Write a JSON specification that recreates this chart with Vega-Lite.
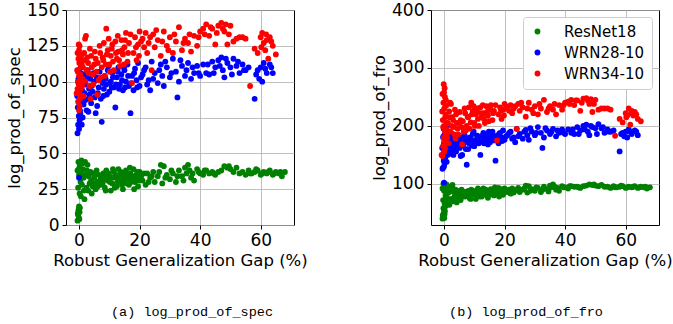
{
 "$schema": "https://vega.github.io/schema/vega-lite/v6.json",
 "background": "white",
 "padding": {"left": 6, "top": 0, "right": 0, "bottom": 5},
 "datasets": {
  "runs": [
   {"m":"ResNet18","g":-0.5,"s":3,"f":40},{"m":"ResNet18","g":0,"s":5,"f":42},{"m":"ResNet18","g":-0.3,"s":7,"f":45},{"m":"ResNet18","g":0.2,"s":9,"f":48},{"m":"ResNet18","g":-0.1,"s":11,"f":50},{"m":"ResNet18","g":0.3,"s":12,"f":53},{"m":"ResNet18","g":-0.4,"s":8,"f":46},{"m":"ResNet18","g":0.1,"s":4,"f":41},{"m":"ResNet18","g":0,"s":13,"f":56},{"m":"ResNet18","g":-0.2,"s":10,"f":58},
   {"m":"ResNet18","g":-0.2,"s":44,"f":100},{"m":"ResNet18","g":0.3,"s":42,"f":97},{"m":"ResNet18","g":0.8,"s":45,"f":99},{"m":"ResNet18","g":1.2,"s":43,"f":96},{"m":"ResNet18","g":2,"s":44,"f":95},{"m":"ResNet18","g":2.8,"s":42,"f":98},{"m":"ResNet18","g":-0.5,"s":38,"f":92},{"m":"ResNet18","g":0,"s":35,"f":88},{"m":"ResNet18","g":0.5,"s":30,"f":80},{"m":"ResNet18","g":-0.3,"s":26,"f":72},{"m":"ResNet18","g":0.2,"s":22,"f":66},{"m":"ResNet18","g":0.6,"s":20,"f":62},{"m":"ResNet18","g":1,"s":28,"f":76},{"m":"ResNet18","g":1.5,"s":33,"f":85},{"m":"ResNet18","g":0.1,"s":40,"f":94},{"m":"ResNet18","g":2.5,"s":26,"f":74},{"m":"ResNet18","g":3,"s":24,"f":70},{"m":"ResNet18","g":1.8,"s":18,"f":64},{"m":"ResNet18","g":3.5,"s":29,"f":78},{"m":"ResNet18","g":4,"s":31,"f":82},
   {"m":"ResNet18","g":4.5,"s":27,"f":76},{"m":"ResNet18","g":5,"s":33,"f":84},{"m":"ResNet18","g":5.5,"s":25,"f":72},{"m":"ResNet18","g":6,"s":30,"f":80},{"m":"ResNet18","g":6.5,"s":35,"f":86},{"m":"ResNet18","g":7,"s":28,"f":78},{"m":"ResNet18","g":7.5,"s":32,"f":84},{"m":"ResNet18","g":8,"s":36,"f":88},{"m":"ResNet18","g":8.5,"s":26,"f":75},{"m":"ResNet18","g":9,"s":38,"f":90},{"m":"ResNet18","g":9.5,"s":31,"f":82},{"m":"ResNet18","g":10,"s":34,"f":86},{"m":"ResNet18","g":10.5,"s":24,"f":74},{"m":"ResNet18","g":11,"s":29,"f":80},{"m":"ResNet18","g":11.5,"s":37,"f":90},{"m":"ResNet18","g":12,"s":33,"f":85},{"m":"ResNet18","g":12.5,"s":27,"f":78},{"m":"ResNet18","g":13,"s":39,"f":92},{"m":"ResNet18","g":13.5,"s":31,"f":84},{"m":"ResNet18","g":14,"s":35,"f":88},{"m":"ResNet18","g":14.5,"s":25,"f":76},{"m":"ResNet18","g":15,"s":30,"f":82},{"m":"ResNet18","g":15.5,"s":38,"f":91},{"m":"ResNet18","g":16,"s":34,"f":87},{"m":"ResNet18","g":16.5,"s":28,"f":80},{"m":"ResNet18","g":17,"s":36,"f":90},{"m":"ResNet18","g":17.5,"s":32,"f":86},{"m":"ResNet18","g":18,"s":39,"f":93},{"m":"ResNet18","g":18.5,"s":30,"f":84},{"m":"ResNet18","g":19,"s":35,"f":89},{"m":"ResNet18","g":19.5,"s":27,"f":81},{"m":"ResNet18","g":20,"s":37,"f":92},
   {"m":"ResNet18","g":21,"s":31,"f":86},{"m":"ResNet18","g":22,"s":28,"f":83},{"m":"ResNet18","g":22.5,"s":36,"f":92},{"m":"ResNet18","g":23.5,"s":33,"f":89},{"m":"ResNet18","g":24.5,"s":37,"f":93},{"m":"ResNet18","g":25,"s":30,"f":86},{"m":"ResNet18","g":26,"s":34,"f":90},{"m":"ResNet18","g":27,"s":42,"f":97},{"m":"ResNet18","g":27.5,"s":29,"f":85},{"m":"ResNet18","g":28,"s":41,"f":96},{"m":"ResNet18","g":29,"s":35,"f":91},{"m":"ResNet18","g":30,"s":32,"f":88},{"m":"ResNet18","g":31,"s":36,"f":93},{"m":"ResNet18","g":32,"s":30,"f":86},{"m":"ResNet18","g":33,"s":38,"f":95},{"m":"ResNet18","g":34,"s":34,"f":91},{"m":"ResNet18","g":35,"s":40,"f":97},{"m":"ResNet18","g":35.5,"s":36,"f":94},{"m":"ResNet18","g":36,"s":42,"f":99},{"m":"ResNet18","g":37,"s":33,"f":90},{"m":"ResNet18","g":38,"s":31,"f":88},{"m":"ResNet18","g":39,"s":39,"f":96},
   {"m":"ResNet18","g":40,"s":36,"f":94},{"m":"ResNet18","g":41,"s":35,"f":92},{"m":"ResNet18","g":42,"s":38,"f":96},{"m":"ResNet18","g":43,"s":36,"f":95},{"m":"ResNet18","g":44,"s":37,"f":95},{"m":"ResNet18","g":45,"s":35,"f":93},{"m":"ResNet18","g":46,"s":37,"f":96},{"m":"ResNet18","g":48,"s":41,"f":99},{"m":"ResNet18","g":49,"s":40,"f":98},{"m":"ResNet18","g":50,"s":39,"f":97},{"m":"ResNet18","g":51,"s":37,"f":96},{"m":"ResNet18","g":52,"s":40,"f":98},{"m":"ResNet18","g":53,"s":36,"f":95},{"m":"ResNet18","g":55,"s":35,"f":93},{"m":"ResNet18","g":56,"s":38,"f":96},{"m":"ResNet18","g":57,"s":36,"f":94},{"m":"ResNet18","g":58,"s":37,"f":95},{"m":"ResNet18","g":59,"s":38,"f":96},{"m":"ResNet18","g":60,"s":35,"f":93},{"m":"ResNet18","g":61,"s":37,"f":95},{"m":"ResNet18","g":62,"s":36,"f":94},{"m":"ResNet18","g":63,"s":38,"f":96},{"m":"ResNet18","g":64,"s":35,"f":93},{"m":"ResNet18","g":65,"s":37,"f":95},{"m":"ResNet18","g":66,"s":36,"f":94},{"m":"ResNet18","g":67,"s":34,"f":92},{"m":"ResNet18","g":68,"s":37,"f":94},
   {"m":"ResNet18","g":0.7,"s":36,"f":90},{"m":"ResNet18","g":1.3,"s":39,"f":93},{"m":"ResNet18","g":1.6,"s":24,"f":70},{"m":"ResNet18","g":2.2,"s":35,"f":88},{"m":"ResNet18","g":2.6,"s":38,"f":92},{"m":"ResNet18","g":3.2,"s":34,"f":86},{"m":"ResNet18","g":3.8,"s":37,"f":90},{"m":"ResNet18","g":4.2,"s":22,"f":68},{"m":"ResNet18","g":4.8,"s":36,"f":88},{"m":"ResNet18","g":5.2,"s":29,"f":80},{"m":"ResNet18","g":5.8,"s":38,"f":90},{"m":"ResNet18","g":6.2,"s":27,"f":78},{"m":"ResNet18","g":6.8,"s":31,"f":83},{"m":"ResNet18","g":7.2,"s":34,"f":86},{"m":"ResNet18","g":7.8,"s":29,"f":80},{"m":"ResNet18","g":8.2,"s":32,"f":84},{"m":"ResNet18","g":8.8,"s":24,"f":74},{"m":"ResNet18","g":9.2,"s":34,"f":87},{"m":"ResNet18","g":9.8,"s":36,"f":88},{"m":"ResNet18","g":10.2,"s":30,"f":82},{"m":"ResNet18","g":10.8,"s":33,"f":86},{"m":"ResNet18","g":11.2,"s":39,"f":92},{"m":"ResNet18","g":11.8,"s":26,"f":78},{"m":"ResNet18","g":12.2,"s":35,"f":88},{"m":"ResNet18","g":12.8,"s":30,"f":83},{"m":"ResNet18","g":13.2,"s":33,"f":86},{"m":"ResNet18","g":13.8,"s":37,"f":90},{"m":"ResNet18","g":14.2,"s":28,"f":80},{"m":"ResNet18","g":14.8,"s":33,"f":86},{"m":"ResNet18","g":15.2,"s":36,"f":89},{"m":"ResNet18","g":15.8,"s":29,"f":82},{"m":"ResNet18","g":16.2,"s":32,"f":85},{"m":"ResNet18","g":16.8,"s":40,"f":94},{"m":"ResNet18","g":17.2,"s":30,"f":84},{"m":"ResNet18","g":17.8,"s":34,"f":88},{"m":"ResNet18","g":18.2,"s":25,"f":78},{"m":"ResNet18","g":18.8,"s":33,"f":87},{"m":"ResNet18","g":19.2,"s":37,"f":91},{"m":"ResNet18","g":19.8,"s":31,"f":85},{"m":"ResNet18","g":20.5,"s":34,"f":88},{"m":"ResNet18","g":21.5,"s":36,"f":90},{"m":"ResNet18","g":23,"s":30,"f":85},{"m":"ResNet18","g":24,"s":34,"f":89},{"m":"ResNet18","g":26.5,"s":37,"f":92},{"m":"ResNet18","g":28.5,"s":33,"f":88},{"m":"ResNet18","g":30.5,"s":38,"f":94},{"m":"ResNet18","g":32.5,"s":34,"f":90},{"m":"ResNet18","g":34.5,"s":31,"f":87},{"m":"ResNet18","g":36.5,"s":38,"f":95},{"m":"ResNet18","g":37.5,"s":36,"f":93},{"m":"ResNet18","g":39.5,"s":37,"f":94},{"m":"ResNet18","g":41.5,"s":38,"f":96},{"m":"ResNet18","g":44.5,"s":36,"f":94},{"m":"ResNet18","g":47,"s":38,"f":97},{"m":"ResNet18","g":49.5,"s":41,"f":99},{"m":"ResNet18","g":54,"s":37,"f":95},{"m":"ResNet18","g":56.5,"s":36,"f":94},{"m":"ResNet18","g":58.5,"s":39,"f":97},{"m":"ResNet18","g":60.5,"s":36,"f":94},{"m":"ResNet18","g":62.5,"s":37,"f":95},{"m":"ResNet18","g":64.5,"s":36,"f":94},{"m":"ResNet18","g":66.5,"s":37,"f":95},
   {"m":"WRN28-10","g":0,"s":33,"f":102},{"m":"WRN28-10","g":7.5,"s":72,"f":133},{"m":"WRN28-10","g":17,"s":78,"f":140},{"m":"WRN28-10","g":32.5,"s":89,"f":162},{"m":"WRN28-10","g":58,"s":88,"f":156},
   {"m":"WRN28-10","g":-0.5,"s":64,"f":126},{"m":"WRN28-10","g":0,"s":67,"f":130},{"m":"WRN28-10","g":-0.3,"s":70,"f":128},{"m":"WRN28-10","g":0.2,"s":73,"f":135},{"m":"WRN28-10","g":-0.1,"s":76,"f":140},{"m":"WRN28-10","g":0.4,"s":78,"f":145},{"m":"WRN28-10","g":-0.4,"s":82,"f":150},{"m":"WRN28-10","g":0.1,"s":85,"f":155},{"m":"WRN28-10","g":0.3,"s":88,"f":160},{"m":"WRN28-10","g":-0.2,"s":91,"f":165},{"m":"WRN28-10","g":0,"s":94,"f":170},{"m":"WRN28-10","g":0.5,"s":97,"f":175},{"m":"WRN28-10","g":-0.3,"s":100,"f":180},{"m":"WRN28-10","g":0.2,"s":103,"f":185},{"m":"WRN28-10","g":0.6,"s":106,"f":190},{"m":"WRN28-10","g":-0.1,"s":108,"f":195},{"m":"WRN28-10","g":0.8,"s":110,"f":198},{"m":"WRN28-10","g":0.3,"s":80,"f":148},{"m":"WRN28-10","g":-0.6,"s":90,"f":162},{"m":"WRN28-10","g":0.9,"s":70,"f":138},
   {"m":"WRN28-10","g":1.2,"s":75,"f":150},{"m":"WRN28-10","g":1.5,"s":84,"f":158},{"m":"WRN28-10","g":1.8,"s":92,"f":166},{"m":"WRN28-10","g":2.2,"s":98,"f":172},{"m":"WRN28-10","g":2.5,"s":80,"f":152},{"m":"WRN28-10","g":3,"s":88,"f":160},{"m":"WRN28-10","g":3.3,"s":95,"f":170},{"m":"WRN28-10","g":3.7,"s":102,"f":178},{"m":"WRN28-10","g":4,"s":85,"f":156},{"m":"WRN28-10","g":4.5,"s":93,"f":168},{"m":"WRN28-10","g":5,"s":100,"f":176},{"m":"WRN28-10","g":5.5,"s":78,"f":148},{"m":"WRN28-10","g":1.4,"s":105,"f":182},{"m":"WRN28-10","g":2.8,"s":108,"f":186},
   {"m":"WRN28-10","g":6,"s":83,"f":150},{"m":"WRN28-10","g":6.5,"s":96,"f":170},{"m":"WRN28-10","g":7,"s":101,"f":176},{"m":"WRN28-10","g":8,"s":90,"f":160},{"m":"WRN28-10","g":8.5,"s":104,"f":180},{"m":"WRN28-10","g":9,"s":98,"f":172},{"m":"WRN28-10","g":9.5,"s":108,"f":186},{"m":"WRN28-10","g":10,"s":93,"f":165},{"m":"WRN28-10","g":10.5,"s":100,"f":176},{"m":"WRN28-10","g":11,"s":106,"f":183},{"m":"WRN28-10","g":11.5,"s":96,"f":170},{"m":"WRN28-10","g":12,"s":82,"f":150},{"m":"WRN28-10","g":12.5,"s":103,"f":180},{"m":"WRN28-10","g":13,"s":110,"f":188},{"m":"WRN28-10","g":13.5,"s":98,"f":174},{"m":"WRN28-10","g":14,"s":105,"f":182},{"m":"WRN28-10","g":14.5,"s":94,"f":168},{"m":"WRN28-10","g":15,"s":108,"f":186},{"m":"WRN28-10","g":15.5,"s":100,"f":178},{"m":"WRN28-10","g":16,"s":112,"f":190},{"m":"WRN28-10","g":16.5,"s":97,"f":175},{"m":"WRN28-10","g":17.5,"s":104,"f":183},{"m":"WRN28-10","g":18,"s":94,"f":170},{"m":"WRN28-10","g":18.5,"s":109,"f":188},{"m":"WRN28-10","g":19,"s":101,"f":180},{"m":"WRN28-10","g":19.5,"s":113,"f":192},{"m":"WRN28-10","g":20,"s":97,"f":176},
   {"m":"WRN28-10","g":21,"s":105,"f":184},{"m":"WRN28-10","g":22,"s":110,"f":190},{"m":"WRN28-10","g":23,"s":101,"f":180},{"m":"WRN28-10","g":23.5,"s":94,"f":172},{"m":"WRN28-10","g":24,"s":114,"f":195},{"m":"WRN28-10","g":25,"s":106,"f":186},{"m":"WRN28-10","g":26,"s":99,"f":178},{"m":"WRN28-10","g":27,"s":112,"f":193},{"m":"WRN28-10","g":27.5,"s":104,"f":184},{"m":"WRN28-10","g":28,"s":97,"f":176},{"m":"WRN28-10","g":29,"s":110,"f":190},{"m":"WRN28-10","g":30,"s":103,"f":184},{"m":"WRN28-10","g":31,"s":116,"f":198},{"m":"WRN28-10","g":32,"s":107,"f":188},{"m":"WRN28-10","g":33,"s":100,"f":180},{"m":"WRN28-10","g":34,"s":111,"f":192},{"m":"WRN28-10","g":35,"s":104,"f":186},{"m":"WRN28-10","g":36,"s":113,"f":195},{"m":"WRN28-10","g":37,"s":102,"f":182},{"m":"WRN28-10","g":38,"s":106,"f":188},{"m":"WRN28-10","g":39,"s":111,"f":194},{"m":"WRN28-10","g":40,"s":104,"f":186},
   {"m":"WRN28-10","g":41,"s":112,"f":194},{"m":"WRN28-10","g":42,"s":106,"f":188},{"m":"WRN28-10","g":43,"s":105,"f":186},{"m":"WRN28-10","g":44,"s":114,"f":198},{"m":"WRN28-10","g":45,"s":110,"f":192},{"m":"WRN28-10","g":46,"s":115,"f":200},{"m":"WRN28-10","g":47,"s":117,"f":202},{"m":"WRN28-10","g":47.5,"s":108,"f":190},{"m":"WRN28-10","g":48,"s":103,"f":184},{"m":"WRN28-10","g":49,"s":113,"f":198},{"m":"WRN28-10","g":50,"s":110,"f":196},{"m":"WRN28-10","g":51,"s":116,"f":203},{"m":"WRN28-10","g":52,"s":111,"f":196},{"m":"WRN28-10","g":53,"s":106,"f":188},{"m":"WRN28-10","g":54,"s":112,"f":194},{"m":"WRN28-10","g":55,"s":108,"f":190},{"m":"WRN28-10","g":56,"s":110,"f":192},{"m":"WRN28-10","g":58.5,"s":105,"f":186},{"m":"WRN28-10","g":59,"s":108,"f":188},{"m":"WRN28-10","g":60,"s":110,"f":190},{"m":"WRN28-10","g":60.5,"s":100,"f":180},{"m":"WRN28-10","g":61,"s":113,"f":194},{"m":"WRN28-10","g":62,"s":106,"f":186},{"m":"WRN28-10","g":63,"s":112,"f":192},{"m":"WRN28-10","g":64,"s":106,"f":184},
   {"m":"WRN28-10","g":0.4,"s":98,"f":176},{"m":"WRN28-10","g":0.7,"s":86,"f":158},{"m":"WRN28-10","g":-0.2,"s":102,"f":182},{"m":"WRN28-10","g":1,"s":94,"f":168},{"m":"WRN28-10","g":1.6,"s":100,"f":176},{"m":"WRN28-10","g":2,"s":87,"f":160},{"m":"WRN28-10","g":2.6,"s":103,"f":180},{"m":"WRN28-10","g":3.1,"s":79,"f":150},{"m":"WRN28-10","g":3.5,"s":91,"f":164},{"m":"WRN28-10","g":4.2,"s":97,"f":172},{"m":"WRN28-10","g":4.8,"s":106,"f":184},{"m":"WRN28-10","g":5.2,"s":89,"f":162},{"m":"WRN28-10","g":5.8,"s":103,"f":180},{"m":"WRN28-10","g":6.2,"s":92,"f":166},{"m":"WRN28-10","g":6.8,"s":107,"f":184},{"m":"WRN28-10","g":7.2,"s":88,"f":160},{"m":"WRN28-10","g":7.8,"s":99,"f":174},{"m":"WRN28-10","g":8.2,"s":95,"f":170},{"m":"WRN28-10","g":8.8,"s":102,"f":178},{"m":"WRN28-10","g":9.2,"s":91,"f":166},{"m":"WRN28-10","g":9.8,"s":111,"f":190},{"m":"WRN28-10","g":10.2,"s":99,"f":175},{"m":"WRN28-10","g":10.8,"s":96,"f":172},{"m":"WRN28-10","g":11.2,"s":103,"f":180},{"m":"WRN28-10","g":12.2,"s":98,"f":174},{"m":"WRN28-10","g":12.8,"s":107,"f":184},{"m":"WRN28-10","g":13.2,"s":95,"f":170},{"m":"WRN28-10","g":14.2,"s":101,"f":178},{"m":"WRN28-10","g":14.8,"s":110,"f":190},{"m":"WRN28-10","g":15.2,"s":96,"f":172},{"m":"WRN28-10","g":16.2,"s":104,"f":182},{"m":"WRN28-10","g":17.2,"s":99,"f":176},{"m":"WRN28-10","g":18.2,"s":106,"f":186},{"m":"WRN28-10","g":19.2,"s":96,"f":174},{"m":"WRN28-10","g":20.5,"s":103,"f":182},{"m":"WRN28-10","g":21.5,"s":108,"f":188},{"m":"WRN28-10","g":22.5,"s":98,"f":178},{"m":"WRN28-10","g":24.5,"s":102,"f":182},{"m":"WRN28-10","g":26.5,"s":108,"f":190},{"m":"WRN28-10","g":28.5,"s":114,"f":196},{"m":"WRN28-10","g":30.5,"s":106,"f":188},{"m":"WRN28-10","g":33.5,"s":115,"f":196},{"m":"WRN28-10","g":35.5,"s":108,"f":190},{"m":"WRN28-10","g":37.5,"s":110,"f":192},{"m":"WRN28-10","g":39.5,"s":106,"f":188},{"m":"WRN28-10","g":42.5,"s":112,"f":194},{"m":"WRN28-10","g":44.5,"s":106,"f":186},{"m":"WRN28-10","g":46.5,"s":111,"f":194},{"m":"WRN28-10","g":48.5,"s":116,"f":200},{"m":"WRN28-10","g":50.5,"s":105,"f":186},{"m":"WRN28-10","g":52.5,"s":114,"f":198},{"m":"WRN28-10","g":54.5,"s":108,"f":190},{"m":"WRN28-10","g":59.5,"s":102,"f":182},{"m":"WRN28-10","g":61.5,"s":109,"f":190},{"m":"WRN28-10","g":63.5,"s":110,"f":190},
   {"m":"WRN34-10","g":56.5,"s":97,"f":183},{"m":"WRN34-10","g":6,"s":91,"f":168},{"m":"WRN34-10","g":17.5,"s":99,"f":175},{"m":"WRN34-10","g":24,"s":108,"f":195},{"m":"WRN34-10","g":65,"s":119,"f":208},
   {"m":"WRN34-10","g":-0.8,"s":92,"f":150},{"m":"WRN34-10","g":-0.5,"s":95,"f":148},{"m":"WRN34-10","g":0,"s":80,"f":155},{"m":"WRN34-10","g":0.2,"s":83,"f":160},{"m":"WRN34-10","g":-0.3,"s":86,"f":165},{"m":"WRN34-10","g":0.4,"s":89,"f":170},{"m":"WRN34-10","g":-0.1,"s":98,"f":180},{"m":"WRN34-10","g":0.3,"s":101,"f":190},{"m":"WRN34-10","g":0,"s":104,"f":200},{"m":"WRN34-10","g":-0.4,"s":107,"f":210},{"m":"WRN34-10","g":0.5,"s":110,"f":220},{"m":"WRN34-10","g":0.1,"s":113,"f":230},{"m":"WRN34-10","g":-0.2,"s":116,"f":240},{"m":"WRN34-10","g":0.3,"s":119,"f":250},{"m":"WRN34-10","g":0,"s":122,"f":258},{"m":"WRN34-10","g":0.2,"s":125,"f":265},{"m":"WRN34-10","g":-0.1,"s":126,"f":272},{"m":"WRN34-10","g":0.6,"s":95,"f":185},{"m":"WRN34-10","g":0.8,"s":100,"f":195},{"m":"WRN34-10","g":-0.6,"s":108,"f":225},{"m":"WRN34-10","g":0.9,"s":112,"f":205},{"m":"WRN34-10","g":0.7,"s":118,"f":235},
   {"m":"WRN34-10","g":1.5,"s":90,"f":170},{"m":"WRN34-10","g":2,"s":130,"f":240},{"m":"WRN34-10","g":2.3,"s":132,"f":238},{"m":"WRN34-10","g":1.8,"s":115,"f":215},{"m":"WRN34-10","g":2.5,"s":108,"f":200},{"m":"WRN34-10","g":3,"s":113,"f":210},{"m":"WRN34-10","g":3.5,"s":97,"f":185},{"m":"WRN34-10","g":4,"s":118,"f":220},{"m":"WRN34-10","g":4.5,"s":105,"f":195},{"m":"WRN34-10","g":5,"s":112,"f":205},{"m":"WRN34-10","g":1.2,"s":102,"f":188},{"m":"WRN34-10","g":3.8,"s":88,"f":178},
   {"m":"WRN34-10","g":5.5,"s":116,"f":210},{"m":"WRN34-10","g":6.5,"s":101,"f":190},{"m":"WRN34-10","g":7,"s":120,"f":222},{"m":"WRN34-10","g":7.5,"s":110,"f":200},{"m":"WRN34-10","g":8,"s":115,"f":215},{"m":"WRN34-10","g":8.5,"s":104,"f":195},{"m":"WRN34-10","g":9,"s":137,"f":240},{"m":"WRN34-10","g":9.5,"s":122,"f":225},{"m":"WRN34-10","g":10,"s":112,"f":205},{"m":"WRN34-10","g":10.5,"s":118,"f":220},{"m":"WRN34-10","g":11,"s":126,"f":230},{"m":"WRN34-10","g":11.5,"s":108,"f":200},{"m":"WRN34-10","g":12,"s":128,"f":232},{"m":"WRN34-10","g":12.5,"s":116,"f":215},{"m":"WRN34-10","g":13,"s":121,"f":222},{"m":"WRN34-10","g":13.5,"s":111,"f":205},{"m":"WRN34-10","g":14,"s":129,"f":234},{"m":"WRN34-10","g":14.5,"s":119,"f":218},{"m":"WRN34-10","g":15,"s":124,"f":228},{"m":"WRN34-10","g":15.5,"s":134,"f":236},{"m":"WRN34-10","g":16,"s":114,"f":210},{"m":"WRN34-10","g":16.5,"s":127,"f":226},{"m":"WRN34-10","g":18,"s":120,"f":220},{"m":"WRN34-10","g":18.5,"s":131,"f":232},{"m":"WRN34-10","g":19,"s":115,"f":212},{"m":"WRN34-10","g":19.5,"s":126,"f":228},{"m":"WRN34-10","g":20,"s":135,"f":238},
   {"m":"WRN34-10","g":21,"s":130,"f":233},{"m":"WRN34-10","g":22,"s":134,"f":236},{"m":"WRN34-10","g":22.5,"s":120,"f":222},{"m":"WRN34-10","g":23,"s":127,"f":230},{"m":"WRN34-10","g":24.5,"s":133,"f":238},{"m":"WRN34-10","g":25,"s":124,"f":226},{"m":"WRN34-10","g":26,"s":129,"f":232},{"m":"WRN34-10","g":27,"s":118,"f":216},{"m":"WRN34-10","g":28,"s":135,"f":240},{"m":"WRN34-10","g":29,"s":125,"f":228},{"m":"WRN34-10","g":30,"s":131,"f":234},{"m":"WRN34-10","g":31,"s":120,"f":220},{"m":"WRN34-10","g":32,"s":128,"f":230},{"m":"WRN34-10","g":33,"s":138,"f":245},{"m":"WRN34-10","g":34,"s":122,"f":224},{"m":"WRN34-10","g":35,"s":130,"f":234},{"m":"WRN34-10","g":36,"s":127,"f":228},{"m":"WRN34-10","g":37,"s":121,"f":220},{"m":"WRN34-10","g":38,"s":132,"f":236},{"m":"WRN34-10","g":39,"s":125,"f":228},{"m":"WRN34-10","g":40,"s":135,"f":240},
   {"m":"WRN34-10","g":41,"s":137,"f":242},{"m":"WRN34-10","g":42,"s":140,"f":245},{"m":"WRN34-10","g":43,"s":132,"f":236},{"m":"WRN34-10","g":44,"s":137,"f":244},{"m":"WRN34-10","g":45,"s":126,"f":226},{"m":"WRN34-10","g":46,"s":139,"f":247},{"m":"WRN34-10","g":47,"s":141,"f":248},{"m":"WRN34-10","g":48,"s":135,"f":238},{"m":"WRN34-10","g":48.5,"s":140,"f":246},{"m":"WRN34-10","g":49,"s":126,"f":224},{"m":"WRN34-10","g":50,"s":139,"f":245},{"m":"WRN34-10","g":51,"s":128,"f":228},{"m":"WRN34-10","g":52,"s":130,"f":230},{"m":"WRN34-10","g":53,"s":131,"f":230},{"m":"WRN34-10","g":55,"s":130,"f":228},
   {"m":"WRN34-10","g":58,"s":123,"f":212},{"m":"WRN34-10","g":59,"s":120,"f":206},{"m":"WRN34-10","g":60,"s":131,"f":222},{"m":"WRN34-10","g":60.5,"s":134,"f":218},{"m":"WRN34-10","g":61,"s":127,"f":230},{"m":"WRN34-10","g":61.5,"s":122,"f":202},{"m":"WRN34-10","g":62,"s":129,"f":226},{"m":"WRN34-10","g":62.5,"s":116,"f":218},{"m":"WRN34-10","g":63,"s":131,"f":224},{"m":"WRN34-10","g":64,"s":125,"f":212},
   {"m":"WRN34-10","g":0.4,"s":105,"f":215},{"m":"WRN34-10","g":-0.3,"s":100,"f":198},{"m":"WRN34-10","g":0.1,"s":92,"f":175},{"m":"WRN34-10","g":0.6,"s":115,"f":245},{"m":"WRN34-10","g":-0.5,"s":120,"f":255},{"m":"WRN34-10","g":0.3,"s":88,"f":162},{"m":"WRN34-10","g":1,"s":97,"f":180},{"m":"WRN34-10","g":1.3,"s":110,"f":205},{"m":"WRN34-10","g":1.7,"s":120,"f":225},{"m":"WRN34-10","g":2.1,"s":100,"f":190},{"m":"WRN34-10","g":2.7,"s":117,"f":215},{"m":"WRN34-10","g":3.2,"s":106,"f":198},{"m":"WRN34-10","g":3.6,"s":123,"f":228},{"m":"WRN34-10","g":4.2,"s":110,"f":205},{"m":"WRN34-10","g":4.7,"s":98,"f":185},{"m":"WRN34-10","g":5.2,"s":121,"f":224},{"m":"WRN34-10","g":5.8,"s":107,"f":198},{"m":"WRN34-10","g":6.2,"s":113,"f":208},{"m":"WRN34-10","g":6.8,"s":125,"f":230},{"m":"WRN34-10","g":7.2,"s":103,"f":192},{"m":"WRN34-10","g":7.8,"s":117,"f":216},{"m":"WRN34-10","g":8.2,"s":127,"f":232},{"m":"WRN34-10","g":8.8,"s":112,"f":206},{"m":"WRN34-10","g":9.2,"s":119,"f":220},{"m":"WRN34-10","g":9.8,"s":130,"f":234},{"m":"WRN34-10","g":10.2,"s":107,"f":200},{"m":"WRN34-10","g":10.8,"s":123,"f":226},{"m":"WRN34-10","g":11.2,"s":114,"f":212},{"m":"WRN34-10","g":12.2,"s":120,"f":222},{"m":"WRN34-10","g":12.8,"s":132,"f":236},{"m":"WRN34-10","g":13.2,"s":115,"f":212},{"m":"WRN34-10","g":14.2,"s":122,"f":224},{"m":"WRN34-10","g":14.8,"s":112,"f":208},{"m":"WRN34-10","g":15.2,"s":129,"f":232},{"m":"WRN34-10","g":16.2,"s":120,"f":222},{"m":"WRN34-10","g":17,"s":133,"f":236},{"m":"WRN34-10","g":18.8,"s":124,"f":226},{"m":"WRN34-10","g":19.8,"s":118,"f":218},{"m":"WRN34-10","g":20.5,"s":128,"f":230},{"m":"WRN34-10","g":21.5,"s":124,"f":226},{"m":"WRN34-10","g":23.5,"s":131,"f":234},{"m":"WRN34-10","g":25.5,"s":136,"f":240},{"m":"WRN34-10","g":27.5,"s":128,"f":230},{"m":"WRN34-10","g":29.5,"s":122,"f":222},{"m":"WRN34-10","g":31.5,"s":133,"f":238},{"m":"WRN34-10","g":34.5,"s":127,"f":230},{"m":"WRN34-10","g":36.5,"s":133,"f":238},{"m":"WRN34-10","g":39.5,"s":131,"f":236},{"m":"WRN34-10","g":41.5,"s":133,"f":238},{"m":"WRN34-10","g":43.5,"s":138,"f":244},{"m":"WRN34-10","g":45.5,"s":134,"f":240},{"m":"WRN34-10","g":47.5,"s":137,"f":244},{"m":"WRN34-10","g":49.5,"s":133,"f":238},{"m":"WRN34-10","g":54,"s":131,"f":230},{"m":"WRN34-10","g":60.2,"s":124,"f":215},{"m":"WRN34-10","g":61.8,"s":133,"f":222},{"m":"WRN34-10","g":63.5,"s":128,"f":220}
  ]
 },
 "data": {"name": "runs"},
 "config": {
  "font": "DejaVu Sans",
  "view": {"stroke": "black", "strokeWidth": 1},
  "axis": {"grid": true, "gridColor": "#b0b0b0", "gridWidth": 0.8, "domain": false, "ticks": true, "tickColor": "black", "tickSize": 4, "labelFont": "DejaVu Sans", "labelFontSize": 17, "labelColor": "black", "labelPadding": 3, "titleFont": "DejaVu Sans", "titleFontSize": 16.5, "titleFontWeight": "normal", "titleColor": "black", "titlePadding": 4},
  "legend": {"labelFont": "DejaVu Sans", "labelFontSize": 15, "labelColor": "black", "symbolType": "circle", "symbolSize": 34, "symbolStrokeWidth": 0, "fillColor": "white", "strokeColor": "#cccccc", "cornerRadius": 3, "padding": 7, "rowPadding": 5, "labelOffset": 19, "symbolOffset": 0},
  "title": {"font": "Liberation Mono", "fontSize": 13.5, "fontWeight": "normal", "color": "black"}
 },
 "resolve": {"legend": {"color": "independent"}},
 "spacing": 63,
 "hconcat": [
  {
   "width": 228, "height": 215,
   "title": {"text": "(a) log_prod_of_spec", "orient": "bottom", "anchor": "middle", "frame": "group", "offset": 36, "dx": 12},
   "mark": {"type": "circle", "size": 34, "opacity": 1},
   "encoding": {
    "x": {"field": "g", "type": "quantitative", "scale": {"domain": [-4.3, 71], "nice": false, "zero": false}, "axis": {"values": [0, 20, 40, 60], "title": "Robust Generalization Gap (%)"}},
    "y": {"field": "s", "type": "quantitative", "scale": {"domain": [0, 150], "nice": false, "zero": false}, "axis": {"values": [0, 25, 50, 75, 100, 125, 150], "title": "log_prod_of_spec"}},
    "color": {"field": "m", "type": "nominal", "scale": {"domain": ["ResNet18", "WRN28-10", "WRN34-10"], "range": ["#008000", "#0000ff", "#ff0000"]}, "legend": null}
   }
  },
  {
   "width": 228, "height": 215,
   "title": {"text": "(b) log_prod_of_fro", "orient": "bottom", "anchor": "middle", "frame": "group", "offset": 36, "dx": -19},
   "mark": {"type": "circle", "size": 34, "opacity": 1},
   "encoding": {
    "x": {"field": "g", "type": "quantitative", "scale": {"domain": [-4.3, 71], "nice": false, "zero": false}, "axis": {"values": [0, 20, 40, 60], "title": "Robust Generalization Gap (%)"}},
    "y": {"field": "f", "type": "quantitative", "scale": {"domain": [29, 400], "nice": false, "zero": false}, "axis": {"values": [100, 200, 300, 400], "title": "log_prod_of_fro"}},
    "color": {"field": "m", "type": "nominal", "scale": {"domain": ["ResNet18", "WRN28-10", "WRN34-10"], "range": ["#008000", "#0000ff", "#ff0000"]}, "legend": {"title": null, "orient": "top-right", "offset": 7}}
   }
  }
 ]
}
